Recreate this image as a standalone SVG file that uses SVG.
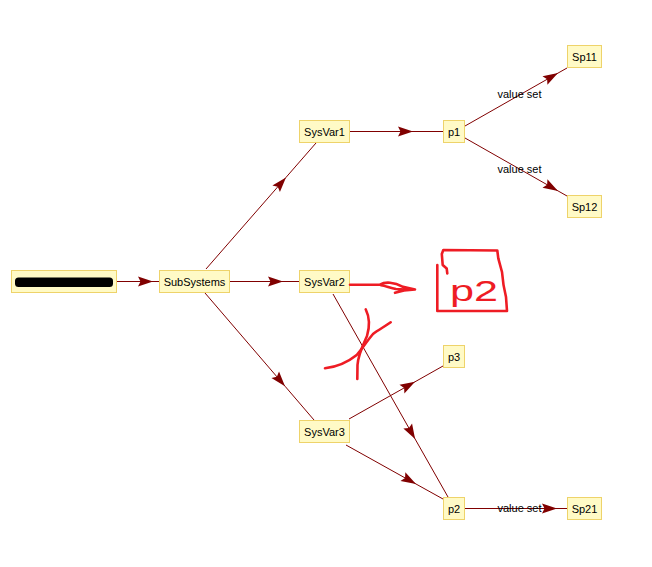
<svg xmlns="http://www.w3.org/2000/svg" width="652" height="567" viewBox="0 0 652 567">
<style>
.node rect{fill:#fffac6;stroke:#eed36a;stroke-width:1}
.node text{font-family:"Liberation Sans",Arial,sans-serif;font-size:11px;fill:#000;text-anchor:middle}
.edge{fill:none;stroke:#800000;stroke-width:1;marker-mid:url(#arr)}
.lbl{font-family:"Liberation Sans",Arial,sans-serif;font-size:11px;fill:#000;text-anchor:middle}
.red{fill:none;stroke:#ee1c24;stroke-width:2.6;stroke-linecap:round;stroke-linejoin:round}
</style>
<defs>
<marker id="arr" viewBox="-16 -6 17 12" refX="0" refY="0" markerWidth="17" markerHeight="12" orient="auto" markerUnits="userSpaceOnUse">
<path d="M0,0 L-15,-5 L-12.5,0 L-15,5 Z" fill="#800000"/>
</marker>
</defs>
<rect width="652" height="567" fill="#ffffff"/>
<g id="connectors">
<path class="edge" d="M117,281.5 L153,281.5 L159,281.5"/>
<path class="edge" d="M206,269 L286,177.4 L316,143"/>
<path class="edge" d="M229,281.5 L283,281.5 L299,281.5"/>
<path class="edge" d="M205,293 L285,386.2 L314,420"/>
<path class="edge" d="M349,131.5 L413,131.5 L443,131.5"/>
<path class="edge" d="M465,126 L558,73.1 L567,68"/>
<path class="edge" d="M465,138 L558,190.9 L567,196"/>
<path class="edge" d="M333,294 L415.1,439 L448,497"/>
<path class="edge" d="M349,419 L415,381.8 L443,366"/>
<path class="edge" d="M346,445 L416,484 L443,499"/>
<path class="edge" d="M465,508.5 L557,508.5 L567,508.5"/>
<text class="lbl" x="519.5" y="98">value set</text>
<text class="lbl" x="519.5" y="173">value set</text>
<text class="lbl" x="519.5" y="512">value set</text>
</g>
<g id="node-root" class="node">
<rect x="11.5" y="270.5" width="105" height="22"/>
<rect x="15" y="277.5" width="98" height="9.5" rx="3.5" style="fill:#000;stroke:none"/>
</g>
<g id="node-subsystems" class="node">
<rect x="159.5" y="270.5" width="70" height="22"/>
<text x="194.5" y="285.5">SubSystems</text>
</g>
<g id="node-sysvar1" class="node">
<rect x="299.5" y="120.5" width="50" height="22"/>
<text x="324.5" y="135.5">SysVar1</text>
</g>
<g id="node-sysvar2" class="node">
<rect x="299.5" y="270.5" width="50" height="22"/>
<text x="324.5" y="285.5">SysVar2</text>
</g>
<g id="node-sysvar3" class="node">
<rect x="299.5" y="420.5" width="50" height="22"/>
<text x="324.5" y="435.5">SysVar3</text>
</g>
<g id="node-p1" class="node">
<rect x="443.5" y="120.5" width="21" height="22"/>
<text x="454" y="135.5">p1</text>
</g>
<g id="node-p3" class="node">
<rect x="443.5" y="345.5" width="21" height="22"/>
<text x="454" y="360.5">p3</text>
</g>
<g id="node-p2" class="node">
<rect x="443.5" y="497.5" width="21" height="22"/>
<text x="454" y="512.5">p2</text>
</g>
<g id="node-sp11" class="node">
<rect x="567.5" y="45.5" width="34" height="22"/>
<text x="584.5" y="60.5">Sp11</text>
</g>
<g id="node-sp12" class="node">
<rect x="567.5" y="195.5" width="34" height="22"/>
<text x="584.5" y="210.5">Sp12</text>
</g>
<g id="node-sp21" class="node">
<rect x="567.5" y="497.5" width="34" height="22"/>
<text x="584.5" y="512.5">Sp21</text>
</g>
<g id="annotations">
<path class="red" d="M350,284.7 L380,284.7 C385,281.5 394,282 403,286.8 L415,289.5 L404,290.5 L395,292.8 M381,285.3 C386,286 390,288 396,289 L405,289.6"/>
<path class="red" d="M437.3,265 L437.3,311 L507,311 L506,297 Q503,285 502,272 L498.3,258.3 L497.3,250.5 L443.3,250 L441.8,254 L442.7,265 L446.7,268.5 L447.3,273.5"/>
<text x="450" y="301" font-family="Liberation Sans,Arial,sans-serif" font-size="30" fill="#ee1c24" textLength="48" lengthAdjust="spacingAndGlyphs">p2</text>
<path class="red" d="M365.7,309.3 C369,316 370,326 367,336 C363,345 358,355 357.5,365 L357.3,379"/>
<path class="red" d="M325,368.3 C336,367 348,362 356.7,355 C362,349 367,341 373,334 C378,330 384,327 390.7,322.3"/>
</g>
</svg>
